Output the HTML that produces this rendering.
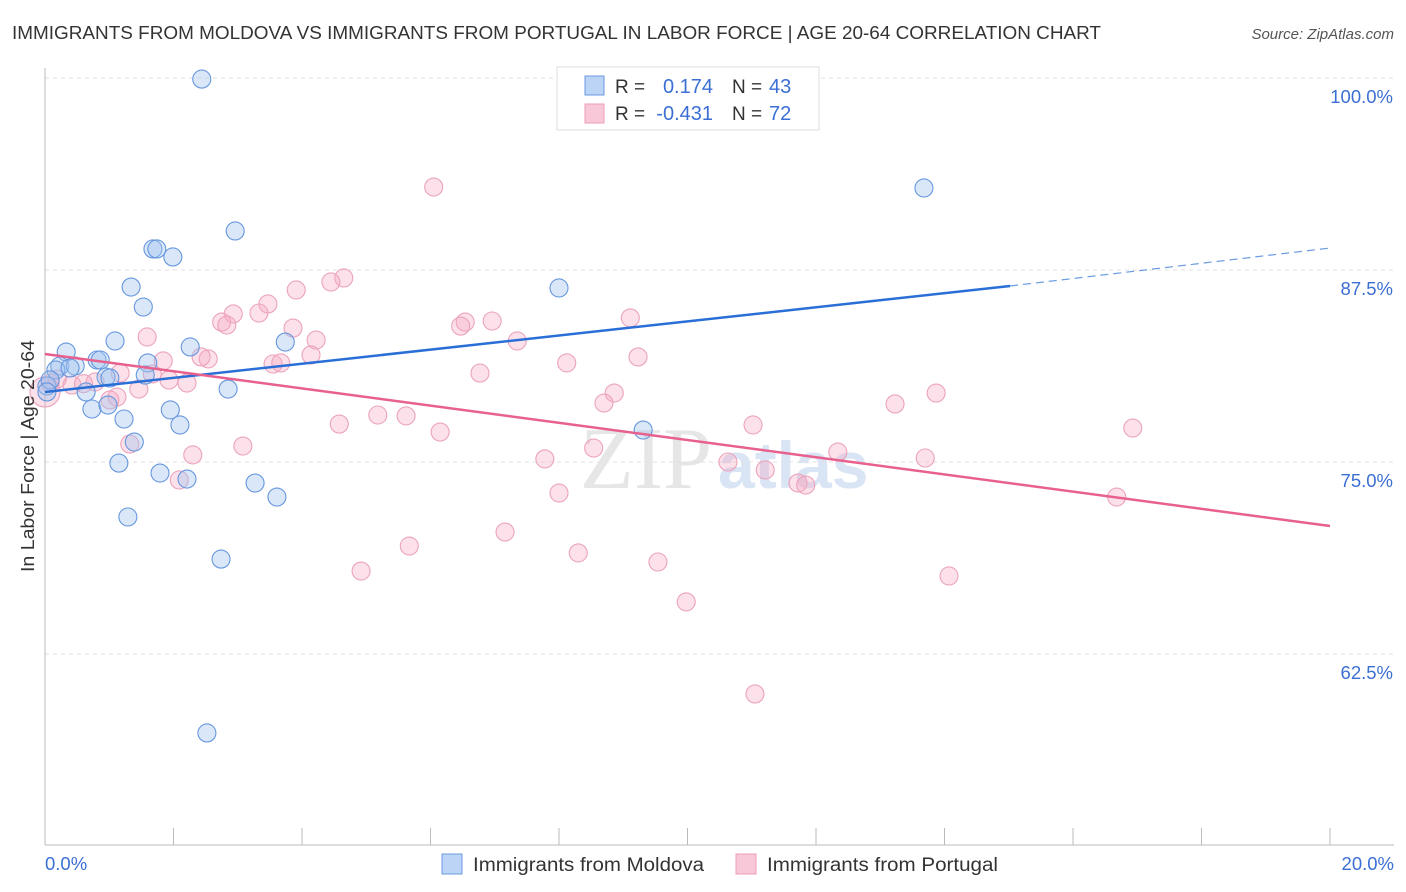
<!DOCTYPE html>
<html><head><meta charset="utf-8"><style>
body{margin:0;background:#fff;font-family:"Liberation Sans",sans-serif;}
svg{display:block}
</style></head><body>
<svg id="chart" width="1406" height="892">
<text x="12" y="39" font-size="18" fill="#333" textLength="1089" lengthAdjust="spacingAndGlyphs">IMMIGRANTS FROM MOLDOVA VS IMMIGRANTS FROM PORTUGAL IN LABOR FORCE | AGE 20-64 CORRELATION CHART</text>
<text x="1394" y="39" font-size="15" fill="#555" font-style="italic" text-anchor="end">Source: ZipAtlas.com</text>
<text x="712" y="488" font-size="88" fill="#e6e6e6" text-anchor="end" font-family="Liberation Serif">ZIP</text>
<text x="718" y="488" font-size="66" fill="#d9e4f4" font-weight="bold">atlas</text>
<g id="grid"></g><g id="axes"></g><g id="pts"></g><g id="lines"></g>
<text transform="translate(34,456) rotate(-90)" font-size="18.5" fill="#333" text-anchor="middle" textLength="232" lengthAdjust="spacingAndGlyphs">In Labor Force | Age 20-64</text>
<text x="45" y="870" font-size="18.5" fill="#3b6fd4">0.0%</text>
<text x="1394" y="870" font-size="18.5" fill="#3b6fd4" text-anchor="end">20.0%</text>
<g>
<rect x="557" y="67" width="262" height="63" fill="#fff" stroke="#ddd"/>
<rect x="585" y="76" width="19" height="19" fill="#bcd4f5" stroke="#6a9ae0"/>
<rect x="585" y="104" width="19" height="19" fill="#f9c8d8" stroke="#ec9bb6"/>
<text x="615" y="93" font-size="19" fill="#333">R =</text>
<text x="713" y="93" font-size="20" fill="#3b6fd4" text-anchor="end">0.174</text>
<text x="732" y="93" font-size="19" fill="#333">N =</text>
<text x="769" y="93" font-size="20" fill="#3b6fd4">43</text>
<text x="615" y="120" font-size="19" fill="#333">R =</text>
<text x="713" y="120" font-size="20" fill="#3b6fd4" text-anchor="end">-0.431</text>
<text x="732" y="120" font-size="19" fill="#333">N =</text>
<text x="769" y="120" font-size="20" fill="#3b6fd4">72</text>
</g>
<g>
<rect x="442" y="854" width="20" height="20" fill="#bcd4f5" stroke="#6a9ae0"/>
<text x="473" y="871" font-size="19" fill="#333" textLength="231" lengthAdjust="spacingAndGlyphs">Immigrants from Moldova</text>
<rect x="736" y="854" width="20" height="20" fill="#f9c8d8" stroke="#ec9bb6"/>
<text x="767" y="871" font-size="19" fill="#333" textLength="231" lengthAdjust="spacingAndGlyphs">Immigrants from Portugal</text>
</g>
</svg>
<script>
const yTicks=[100,87.5,75,62.5];
const yTickLabels=["100.0%","87.5%","75.0%","62.5%"];
const xTicks=[0,2,4,6,8,10,12,14,16,18,20];
const moldovaX=[2.44,13.68,2.96,1.68,1.74,1.99,1.34,1.53,8.00,1.09,2.26,3.74,0.33,0.81,0.86,1.60,0.23,0.47,0.17,0.03,1.56,0.95,0.64,2.85,0.73,0.98,1.95,1.23,2.10,1.39,9.31,1.15,1.79,2.21,3.27,3.61,1.29,2.74,2.52,0.08,1.01,0.03,0.39];
const moldovaY=[99.93,92.84,90.04,88.87,88.87,88.35,86.39,85.09,86.33,82.88,82.49,82.81,82.16,81.64,81.64,81.45,81.25,81.25,80.99,79.95,80.66,80.53,79.56,79.75,78.45,78.71,78.39,77.80,77.41,76.30,77.08,74.93,74.28,73.89,73.63,72.72,71.42,68.68,57.36,80.34,80.47,79.56,81.12];
const portugalX=[6.05,4.65,4.45,3.91,3.47,3.33,2.93,2.75,2.83,3.86,4.22,1.59,6.54,6.96,6.47,9.11,7.35,2.54,2.43,1.84,3.55,3.67,4.14,9.23,8.12,6.77,1.17,1.67,1.93,2.21,1.46,0.78,0.42,0.19,0.08,1.12,8.86,8.70,13.87,13.23,16.93,5.18,5.62,4.58,6.15,3.08,1.32,2.30,2.09,8.54,7.78,11.02,12.34,10.63,13.70,11.21,11.72,11.84,8.00,16.68,7.16,5.67,8.30,9.54,4.92,14.07,9.98,11.05,0.00,1.01,0.60];
const portugalY=[92.90,86.98,86.72,86.20,85.29,84.70,84.64,84.11,83.92,83.72,82.94,83.14,84.11,84.18,83.85,84.38,82.88,81.71,81.84,81.58,81.38,81.45,81.97,81.84,81.45,80.79,80.79,80.73,80.34,80.14,79.75,80.21,80.01,80.40,80.14,79.23,79.49,78.84,79.49,78.78,77.21,78.06,78.00,77.47,76.95,76.04,76.17,75.46,73.83,75.91,75.20,77.41,75.65,75.00,75.26,74.48,73.63,73.50,72.98,72.72,70.44,69.53,69.08,68.49,67.90,67.58,65.89,59.90,79.56,79.04,80.10];
const moldovaTrend=[[0,79.56],[15.02,86.46],[20,88.93]];
const portugalTrend=[[0,82.03],[20,70.83]];
const NS="http://www.w3.org/2000/svg";
const X=v=>45+v*64.25, Y=v=>78+(100-v)*15.36;
function mk(tag,attrs,parent){const e=document.createElementNS(NS,tag);for(const k in attrs)e.setAttribute(k,attrs[k]);parent.appendChild(e);return e;}
const grid=document.getElementById('grid'),axes=document.getElementById('axes'),pts=document.getElementById('pts'),lines=document.getElementById('lines');
yTicks.forEach((t,i)=>{
 const l=mk('line',{x1:45,x2:1394,y1:Y(t),y2:Y(t),stroke:'#e2e2e2','stroke-dasharray':'4,4'},grid);
 
 
 const tx=mk('text',{x:1393,y:Y(t)+25,'font-size':18.5,fill:'#3b6fd4','text-anchor':'end'},grid);
 tx.textContent=yTickLabels[i];
 
 
});
const ya=mk('line',{x1:45,x2:45,y1:68,y2:845,stroke:'#bbb'},axes);


const xa=mk('line',{x1:45,x2:1394,y1:845,y2:845,stroke:'#bbb'},axes);


xTicks.forEach(t=>{const l=mk('line',{x1:X(t),x2:X(t),y1:828,y2:845,stroke:'#bbb'},axes);
 
 });
portugalX.forEach((v,i)=>{const c=mk('circle',{cx:X(v),cy:Y(portugalY[i]),r:(i==68?15:9),fill:'rgba(245,170,195,0.35)',stroke:'#eba3bc','stroke-width':1.1},pts);
 
 });
moldovaX.forEach((v,i)=>{const c=mk('circle',{cx:X(v),cy:Y(moldovaY[i]),r:9,fill:'rgba(160,195,240,0.4)',stroke:'#6797dd','stroke-width':1.1},pts);
 
 });
const b1=mk('line',{x1:X(moldovaTrend[0][0]),y1:Y(moldovaTrend[0][1]),x2:X(moldovaTrend[1][0]),y2:Y(moldovaTrend[1][1]),stroke:'#2a6fd6','stroke-width':2.5},lines);


const b2=mk('line',{x1:X(moldovaTrend[1][0]),y1:Y(moldovaTrend[1][1]),x2:X(moldovaTrend[2][0]),y2:Y(moldovaTrend[2][1]),stroke:'#6a9ae0','stroke-width':1.2,'stroke-dasharray':'8,5'},lines);


const p1=mk('line',{x1:X(portugalTrend[0][0]),y1:Y(portugalTrend[0][1]),x2:X(portugalTrend[1][0]),y2:Y(portugalTrend[1][1]),stroke:'#e8608e','stroke-width':2.5},lines);


</script>
</body></html>
